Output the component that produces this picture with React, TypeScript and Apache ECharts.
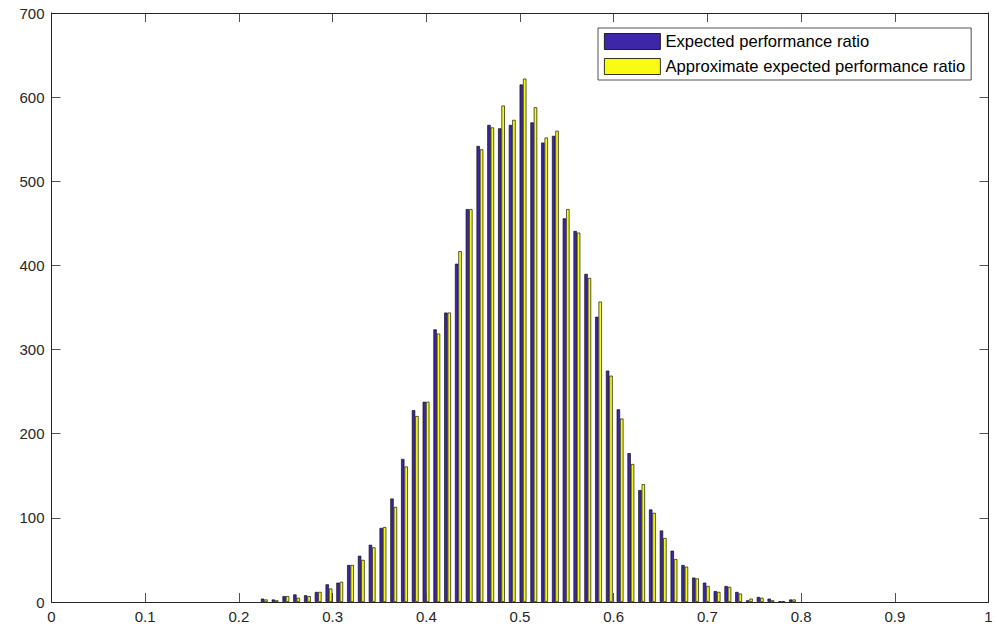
import React, { useEffect, useRef } from "react";
import * as echarts from "echarts";

const binCenters = [
  0.2271, 0.2386, 0.2501, 0.2616, 0.2731, 0.2846, 0.2961, 0.3076, 0.3191, 0.3306,
  0.3422, 0.3537, 0.3652, 0.3767, 0.3882, 0.3997, 0.4112, 0.4227, 0.4342, 0.4457,
  0.4572, 0.4687, 0.4802, 0.4917, 0.5032, 0.5147, 0.5262, 0.5377, 0.5492, 0.5607,
  0.5723, 0.5838, 0.5953, 0.6068, 0.6183, 0.6298, 0.6413, 0.6528, 0.6643, 0.6758,
  0.6873, 0.6988, 0.7103, 0.7218, 0.7333, 0.7448, 0.7563, 0.7678, 0.7793, 0.7908,
];

const expectedCounts = [
  4, 3, 7, 9, 8, 12, 21, 23, 44, 55,
  68, 88, 123, 170, 228, 238, 324, 344, 402, 467,
  542, 567, 563, 567, 615, 570, 546, 554, 456, 441,
  390, 339, 275, 229, 177, 133, 110, 85, 61, 44,
  29, 23, 13, 19, 12, 2, 6, 4, 1, 3,
];

const approxCounts = [
  3, 2, 7, 5, 7, 12, 16, 24, 44, 50,
  65, 89, 113, 161, 221, 238, 319, 344, 417, 467,
  538, 564, 590, 573, 622, 588, 552, 560, 467, 439,
  385, 357, 269, 218, 164, 140, 106, 76, 51, 42,
  28, 19, 12, 18, 10, 4, 5, 2, 1, 3,
];

const seriesNames = ["Expected performance ratio", "Approximate expected performance ratio"];

const FONT = "'Liberation Sans', Arial, Helvetica, sans-serif";
const AXIS_COLOR = "#262626";

export default function App() {
  const ref = useRef<HTMLDivElement>(null);

  useEffect(() => {
    if (!ref.current) return;
    const chart = echarts.init(ref.current, null, { renderer: "svg" });

    const boxAxisX = (pos: "bottom" | "top", showLabel: boolean) => ({
      type: "value" as const,
      position: pos,
      min: 0,
      max: 1,
      interval: 0.1,
      axisLine: { show: true, onZero: false, lineStyle: { color: AXIS_COLOR, width: 1 } },
      axisTick: { show: true, inside: true, length: 9, lineStyle: { color: AXIS_COLOR, width: 0.8 } },
      axisLabel: {
        show: showLabel,
        color: AXIS_COLOR,
        fontSize: 15,
        fontFamily: FONT,
        margin: 7,
      },
      splitLine: { show: false },
    });

    const boxAxisY = (pos: "left" | "right", showLabel: boolean) => ({
      type: "value" as const,
      position: pos,
      min: 0,
      max: 700,
      interval: 100,
      axisLine: { show: true, onZero: false, lineStyle: { color: AXIS_COLOR, width: 1 } },
      axisTick: { show: true, inside: true, length: 9, lineStyle: { color: AXIS_COLOR, width: 0.8 } },
      axisLabel: {
        show: showLabel,
        color: AXIS_COLOR,
        fontSize: 15,
        fontFamily: FONT,
        margin: 7,
      },
      splitLine: { show: false },
    });

    const mkData = (vals: number[]) => binCenters.map((c, i) => [c, vals[i]]);

    chart.setOption({
      animation: false,
      backgroundColor: "#ffffff",
      grid: { left: 51.5, right: 9.5, top: 13, bottom: 34, containLabel: false },
      legend: {
        orient: "vertical",
        left: 598,
        top: 28,
        icon: "rect",
        itemWidth: 56,
        itemHeight: 16,
        itemGap: 8,
        padding: [5, 6, 5, 6],
        backgroundColor: "#ffffff",
        borderColor: AXIS_COLOR,
        borderWidth: 0.8,
        borderRadius: 0,
        textStyle: { fontSize: 16.6, fontFamily: FONT, color: "#000000" },
        itemStyle: { borderColor: "#000000", borderWidth: 0.8 },
        data: seriesNames,
      },
      xAxis: [boxAxisX("bottom", true), boxAxisX("top", false)],
      yAxis: [boxAxisY("left", true), boxAxisY("right", false)],
      series: [
        {
          name: seriesNames[0],
          type: "bar",
          xAxisIndex: 0,
          yAxisIndex: 0,
          barWidth: 3.4,
          barGap: "0%",
          itemStyle: { color: "#3E26A8", borderColor: "#111111", borderWidth: 0.7 },
          data: mkData(expectedCounts),
        },
        {
          name: seriesNames[1],
          type: "bar",
          xAxisIndex: 0,
          yAxisIndex: 0,
          barWidth: 3.4,
          barGap: "0%",
          itemStyle: { color: "#F9FB15", borderColor: "#111111", borderWidth: 0.7 },
          data: mkData(approxCounts),
        },
      ],
    });

    return () => chart.dispose();
  }, []);

  return (
    <div
      ref={ref}
      style={{ position: "fixed", left: 0, top: 0, width: 998, height: 636, background: "#fff" }}
    />
  );
}
